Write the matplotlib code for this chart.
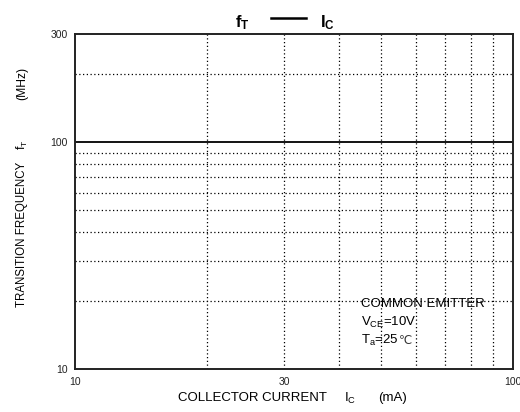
import matplotlib
matplotlib.use("Agg")
import matplotlib.pyplot as plt
from matplotlib.lines import Line2D
from matplotlib.ticker import FixedLocator, NullFormatter, FixedFormatter

plt.rcParams['font.family'] = ['Liberation Sans', 'DejaVu Sans']
plt.rcParams['mathtext.fontset'] = 'custom'
plt.rcParams['mathtext.rm'] = 'Liberation Sans'
plt.rcParams['mathtext.it'] = 'Liberation Sans'
plt.rcParams['mathtext.bf'] = 'Liberation Sans:bold'

# Data / tick definitions
x_range = [10, 100]
y_range = [10, 300]
x_tick_values = [10, 30, 100]
x_tick_labels = ["10", "30", "100"]
y_tick_values = [10, 100, 300]
y_tick_labels = ["10", "100", "300"]
x_grid_minor = [20, 30, 40, 50, 60, 70, 80, 90]
y_grid_minor = [20, 30, 40, 50, 60, 70, 80, 90, 200]
y_grid_major = [100]

W, H = 520, 412
def fx(px): return px / W
def fy(py): return 1 - py / H

fig = plt.figure(figsize=(5.2, 4.12), dpi=100)
ax = fig.add_axes([fx(75), fy(369), 438 / W, 335 / H])
ax.set_xscale('log')
ax.set_yscale('log')
ax.set_xlim(*x_range)
ax.set_ylim(*y_range)

ax.xaxis.set_major_locator(FixedLocator(x_tick_values))
ax.xaxis.set_major_formatter(FixedFormatter(x_tick_labels))
ax.xaxis.set_minor_locator(FixedLocator(x_grid_minor))
ax.xaxis.set_minor_formatter(NullFormatter())
ax.yaxis.set_major_locator(FixedLocator(y_tick_values))
ax.yaxis.set_major_formatter(FixedFormatter(y_tick_labels))
ax.yaxis.set_minor_locator(FixedLocator(y_grid_minor))
ax.yaxis.set_minor_formatter(NullFormatter())

ax.tick_params(which='both', length=0, labelsize=7.5, colors='#222222')
ax.tick_params(axis='x', pad=6)
ax.tick_params(axis='y', pad=5)

dot = (0, (1, 2))
for xv in x_grid_minor:
    ax.axvline(xv, color='black', linestyle=dot, linewidth=0.9)
for yv in y_grid_minor:
    ax.axhline(yv, color='black', linestyle=dot, linewidth=0.9)
for yv in y_grid_major:
    ax.axhline(yv, color='black', linestyle='-', linewidth=1.3)

for s in ax.spines.values():
    s.set_linewidth(1.4)
    s.set_color('#222222')

# Title
fig.text(fx(235), fy(27), r'$\mathbf{f_T}$', fontsize=12, ha='left', va='baseline')
fig.add_artist(Line2D([fx(271), fx(306)], [fy(18), fy(18)], color='black', linewidth=1.8))
fig.text(fx(320), fy(27), r'$\mathbf{I_C}$', fontsize=12, ha='left', va='baseline')

# X axis label (pieces)
fig.text(fx(178), fy(398), 'COLLECTOR CURRENT', fontsize=9.5, ha='left', va='center')
fig.text(fx(344), fy(398), r'I$_{\mathrm{C}}$', fontsize=9.5, ha='left', va='center')
fig.text(fx(378), fy(398), '(mA)', fontsize=9.5, ha='left', va='center')

# Y axis label (pieces, rotated)
fig.text(fx(22), fy(307), 'TRANSITION FREQUENCY', fontsize=8.3, ha='center', va='bottom',
         rotation=90)
fig.text(fx(22), fy(150), r'f$_{\mathrm{T}}$', fontsize=8.7, ha='center', va='bottom',
         rotation=90)
fig.text(fx(22), fy(100), '(MHz)', fontsize=8.7, ha='center', va='bottom', rotation=90)

# Conditions
fig.text(fx(361), fy(304), 'COMMON EMITTER', fontsize=9.5, va='center')
fig.text(fx(361), fy(322), r'V$_{\mathrm{CE}}$=10V', fontsize=9.5, va='center')
t_a = fig.text(fx(361), fy(340), r'T$_{\mathrm{a}}$=25', fontsize=9.5, va='center')
fig.canvas.draw()
bb = t_a.get_window_extent(renderer=fig.canvas.get_renderer())
fig.text(bb.x1 / (fig.dpi * fig.get_figwidth()), fy(340), '\u2103', fontsize=8.5,
         va='center', family='DejaVu Sans', color='#333333')

fig.savefig('out.png', dpi=100)
